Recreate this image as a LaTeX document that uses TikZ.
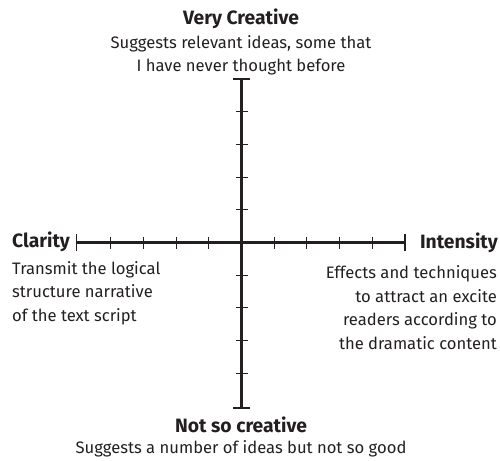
\documentclass[tikz,border=0pt]{standalone}
\usepackage{fontspec}
\setmainfont{Fira Sans}
\usetikzlibrary{calc}
\definecolor{ink}{HTML}{231F20}
\begin{document}
\begin{tikzpicture}[x=1pt,y=-1pt,
  axis/.style={draw=ink,line width=2.2pt},
  tickmark/.style={draw=ink,line width=1pt},
  endbar/.style={draw=ink,line width=1.6pt},
  title/.style={font=\fontsize{19.3}{23}\selectfont\bfseries,text=ink,inner sep=0pt},
  desc/.style={font=\fontsize{16.6}{23.5}\selectfont,text=ink,inner sep=0pt}]
\useasboundingbox (0,0) rectangle (500,460);
\def\u{32.7}
\coordinate (O) at (241.5,242.5);
\coordinate (L) at (76.5,242.5);
\coordinate (R) at (405,242.5);
\coordinate (T) at (241.5,79);
\coordinate (B) at (241.5,408);
\draw[axis] (L) -- (R);
\draw[axis] (T) -- (B);
\foreach \i in {1,...,4}{
  \draw[tickmark] ($(O)+(\i*\u,-6)$) -- ++(0,12);
  \draw[tickmark] ($(O)+(-\i*\u,-6)$) -- ++(0,12);
  \draw[tickmark] ($(O)+(-6,\i*\u)$) -- ++(12,0);
  \draw[tickmark] ($(O)+(-6,-\i*\u)$) -- ++(12,0);
}
\draw[endbar] ($(L)+(0,-8.5)$) -- ($(L)+(0,8.5)$);
\draw[endbar] ($(R)+(0,-8.5)$) -- ($(R)+(0,8.5)$);
\draw[endbar] ($(T)+(-8.5,0)$) -- ($(T)+(8.5,0)$);
\draw[endbar] ($(B)+(-8.5,0)$) -- ($(B)+(8.5,0)$);
\node[title,anchor=base] (vc) at (241,25) {Very Creative};
\node[desc,anchor=base,align=center] (vcd) at (241,71.7) {Suggests relevant ideas, some that\\I have never thought before};
\node[title,anchor=base west] (cl) at (12,247) {Clarity};
\node[desc,anchor=base west,align=left] (cld) at (12,321) {Transmit the logical\\structure narrative\\of the text script};
\node[title,anchor=base east] (in) at (498,248) {Intensity};
\node[desc,anchor=base east,align=right] (ind) at (497,349) {Effects and techniques\\to attract an excite\\readers according to\\the dramatic content};
\node[title,anchor=base] (nc) at (241,432) {Not so creative};
\node[desc,anchor=base] (ncd) at (241,453) {Suggests a number of ideas but not so good};
\end{tikzpicture}
\end{document}
